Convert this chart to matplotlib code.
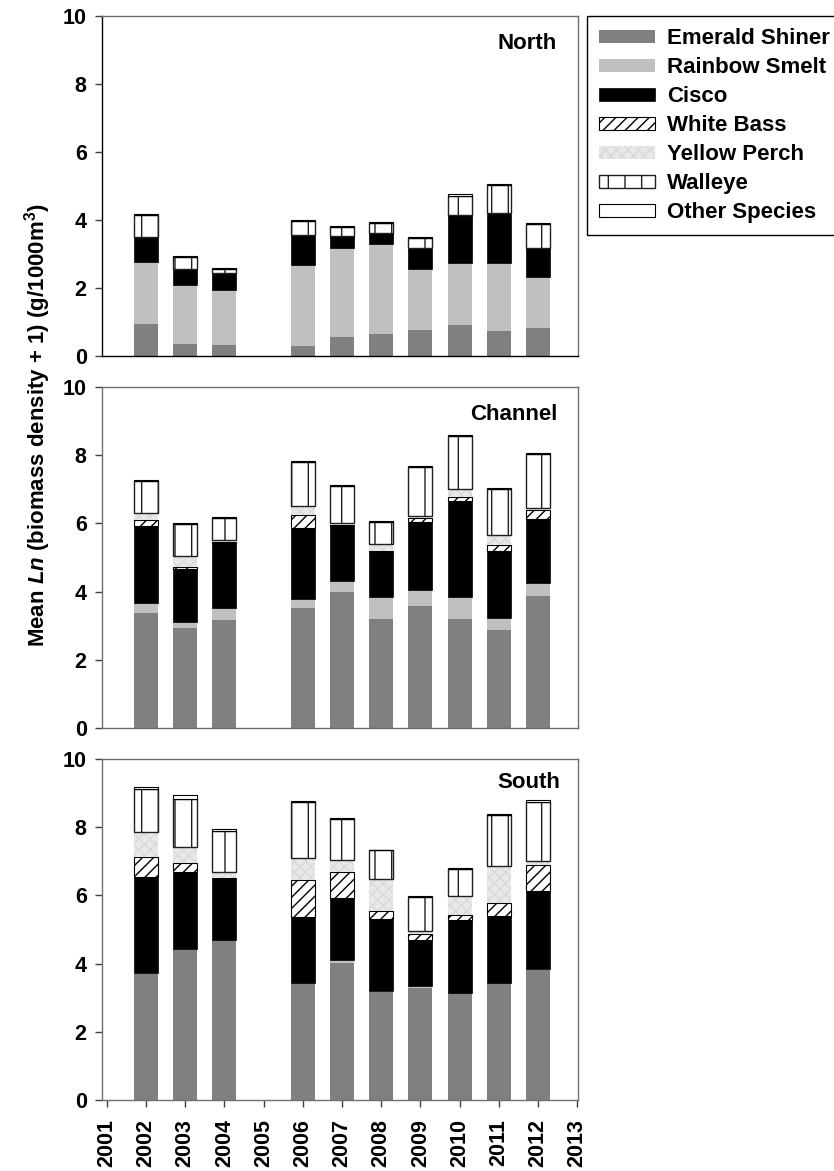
import matplotlib
matplotlib.use('Agg')
import matplotlib.pyplot as plt
from matplotlib.patches import Patch
import numpy as np

plt.rcParams['font.family'] = ['Liberation Sans', 'DejaVu Sans']
plt.rcParams['font.weight'] = 'bold'
plt.rcParams['mathtext.fontset'] = 'custom'
plt.rcParams['mathtext.rm'] = 'Liberation Sans:bold'
plt.rcParams['mathtext.it'] = 'Liberation Sans:italic:bold'
plt.rcParams['mathtext.bf'] = 'Liberation Sans:bold'
plt.rcParams['hatch.linewidth'] = 1.0

years = [2002, 2003, 2004, 2006, 2007, 2008, 2009, 2010, 2011, 2012]
species = ['Emerald Shiner', 'Rainbow Smelt', 'Cisco', 'White Bass',
           'Yellow Perch', 'Walleye', 'Other Species']
regions = ['North', 'Channel', 'South']

# rows follow `species`, columns follow `years`
north = [
    [0.94, 0.35, 0.32, 0.29, 0.55, 0.65, 0.76, 0.91, 0.75, 0.83],
    [1.82, 1.74, 1.62, 2.39, 2.63, 2.63, 1.80, 1.83, 2.00, 1.48],
    [0.73, 0.46, 0.49, 0.87, 0.29, 0.32, 0.58, 1.39, 1.42, 0.85],
    [0.01, 0.01, 0.00, 0.00, 0.03, 0.02, 0.02, 0.01, 0.01, 0.01],
    [0.01, 0.01, 0.01, 0.01, 0.03, 0.01, 0.02, 0.02, 0.02, 0.02],
    [0.63, 0.35, 0.12, 0.42, 0.25, 0.29, 0.28, 0.56, 0.83, 0.69],
    [0.04, 0.02, 0.02, 0.03, 0.03, 0.03, 0.03, 0.03, 0.03, 0.03],
]
channel = [
    [3.37, 2.94, 3.16, 3.51, 3.98, 3.21, 3.57, 3.20, 2.88, 3.86],
    [0.30, 0.16, 0.35, 0.28, 0.32, 0.62, 0.47, 0.63, 0.34, 0.40],
    [2.24, 1.55, 1.92, 2.08, 1.62, 1.32, 2.01, 2.83, 1.97, 1.86],
    [0.18, 0.07, 0.01, 0.38, 0.02, 0.04, 0.12, 0.12, 0.17, 0.28],
    [0.21, 0.32, 0.06, 0.25, 0.07, 0.22, 0.04, 0.23, 0.31, 0.04],
    [0.95, 0.95, 0.67, 1.30, 1.08, 0.64, 1.43, 1.54, 1.35, 1.59],
    [0.03, 0.02, 0.02, 0.03, 0.03, 0.02, 0.03, 0.03, 0.03, 0.03],
]
south = [
    [3.70, 4.42, 4.68, 3.42, 4.01, 3.17, 3.29, 3.13, 3.42, 3.82],
    [0.02, 0.02, 0.02, 0.02, 0.10, 0.02, 0.06, 0.02, 0.02, 0.02],
    [2.81, 2.25, 1.80, 1.94, 1.80, 2.13, 1.33, 2.14, 1.97, 2.28],
    [0.61, 0.25, 0.02, 1.08, 0.78, 0.22, 0.19, 0.14, 0.38, 0.77],
    [0.71, 0.47, 0.17, 0.64, 0.35, 0.95, 0.10, 0.54, 1.07, 0.12],
    [1.27, 1.42, 1.21, 1.64, 1.21, 0.83, 0.98, 0.81, 1.49, 1.72],
    [0.06, 0.12, 0.04, 0.02, 0.02, 0.02, 0.03, 0.02, 0.04, 0.06],
]
data = [north, channel, south]

styles = [
    dict(facecolor='#808080', edgecolor='none'),
    dict(facecolor='#c0c0c0', edgecolor='none'),
    dict(facecolor='black', edgecolor='black', linewidth=0.5),
    dict(facecolor='white', edgecolor='black', hatch='///', linewidth=0.8),
    dict(facecolor='#e8e8e8', edgecolor='#d9d9d9', hatch='xxx', linewidth=0),
    dict(facecolor='white', edgecolor='#202020', hatch='|', linewidth=1.0),
    dict(facecolor='white', edgecolor='black', linewidth=0.8),
]

W, H = 834, 1171
fig = plt.figure(figsize=(W / 100, H / 100), dpi=100)
left, right = 102, 578
panels = [(16, 356), (387, 728), (759, 1100)]
title_pos = [(0.956, 0.92), (0.956, 0.918), (0.962, 0.93)]

axes = []
for i, (top, bot) in enumerate(panels):
    ax = fig.add_axes([left / W, 1 - bot / H, (right - left) / W, (bot - top) / H])
    vals = np.array(data[i])
    bottom = np.zeros(len(years))
    for k in range(len(species)):
        ax.bar(years, vals[k], width=0.61, bottom=bottom, **styles[k])
        bottom += vals[k]
    ax.set_xlim(2000.88, 2013.02)
    ax.set_ylim(0, 10)
    ax.set_yticks(np.arange(0, 11, 2))
    ax.tick_params(axis='y', direction='out', length=5, width=1, labelsize=15.5,
                   pad=6, color='#404040')
    for s in ax.spines.values():
        s.set_color('#707070')
        s.set_linewidth(1.0)
    if i == 0:
        ax.spines['left'].set_color('black')
        ax.spines['bottom'].set_color('black')
    ax.text(title_pos[i][0], title_pos[i][1], regions[i], transform=ax.transAxes,
            ha='right', va='center', fontsize=16, fontweight='bold')
    if i < 2:
        ax.tick_params(axis='x', bottom=False, labelbottom=False)
    else:
        ax.set_xticks(range(2001, 2014))
        ax.set_xticklabels([str(y) for y in range(2001, 2014)], rotation=90)
        ax.tick_params(axis='x', direction='out', length=5, width=1, labelsize=15.5,
                       pad=9, color='#404040')
    axes.append(ax)

fig.text(38 / W, 1 - 425 / H,
         r'Mean $\mathit{Ln}$ (biomass density + 1) (g/1000m$^{3}$)',
         rotation=90, ha='center', va='center', fontsize=16, fontweight='bold')

handles = [Patch(**st) for st in styles]
leg = axes[0].legend(handles, species, loc='upper left', bbox_to_anchor=(1.019, 1.0),
                     borderaxespad=0, fancybox=False, framealpha=1, edgecolor='black',
                     handlelength=2.5, handleheight=0.54, labelspacing=0.36,
                     handletextpad=0.55, fontsize=16, borderpad=0.55)
leg.get_frame().set_linewidth(1.0)

fig.savefig('out.png', dpi=100)
